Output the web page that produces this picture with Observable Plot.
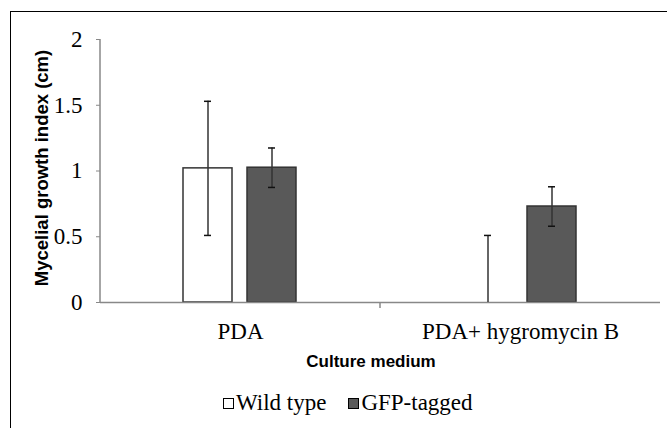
<!DOCTYPE html>
<html>
<head>
<meta charset="utf-8">
<script src="https://cdn.jsdelivr.net/npm/d3@7"></script>
<script src="https://cdn.jsdelivr.net/npm/@observablehq/plot@0.6"></script>
<style>
  html, body { margin: 0; padding: 0; background: #fff; }
  #wrap { position: relative; width: 667px; height: 428px; overflow: hidden; background: #fff; }
  #border { position: absolute; left: 10px; top: 11px; width: 720px; height: 520px; border: 1px solid #000; box-sizing: border-box; }
  #chart { position: absolute; left: 0; top: 0; }
  .ytitle { position: absolute; left: -109px; top: 158px; width: 300px; height: 20px; line-height: 20px;
            text-align: center; transform: rotate(-90deg); transform-origin: 150px 10px;
            font: bold 18.5px "Liberation Sans", Arial, sans-serif; color: #000; white-space: nowrap; }
  .xtitle { position: absolute; left: 221px; top: 352px; width: 300px; line-height: 17px; text-align: center;
            font: bold 17px "Liberation Sans", Arial, sans-serif; color: #000; white-space: nowrap; }
  #legend { position: absolute; left: 223px; top: 391px; display: flex; align-items: flex-start;
            font: 23px "Liberation Serif", "Times New Roman", serif; line-height: 23px; color: #000; }
  #legend .item { display: flex; align-items: flex-start; margin-right: 22px; white-space: nowrap; }
  #legend .sw { width: 11px; height: 11px; border: 1px solid #000; box-sizing: border-box; margin-top: 7px; margin-right: 2px; }
</style>
</head>
<body>
<div id="wrap">
  <div id="border"></div>
  <div id="chart"></div>
  <div class="ytitle">Mycelial growth index (cm)</div>
  <div class="xtitle">Culture medium</div>
  <div id="legend"></div>
</div>
<script>
// Culture media (x categories) and strains (bar series)
const media = ["PDA", "PDA+ hygromycin B"];
const strains = ["Wild type", "GFP-tagged"];

// Mean mycelial growth index (cm) and error per medium
const wildMean = [1.02, 0];
const wildErr = [0.51, 0.51];
const gfpMean = [1.025, 0.73];
const gfpErr = [0.15, 0.15];

// Y axis ticks
const yTicks = [0, 0.5, 1, 1.5, 2];

const strainFill = {"Wild type": "#ffffff", "GFP-tagged": "#595959"};

const rows = [];
media.forEach((m, i) => {
  rows.push({medium: m, strain: strains[0], mean: wildMean[i], err: wildErr[i]});
  rows.push({medium: m, strain: strains[1], mean: gfpMean[i], err: gfpErr[i]});
});
rows.forEach(d => {
  d.lo = Math.max(0, d.mean - d.err);
  d.hi = d.mean + d.err;
});

const chart = Plot.plot({
  width: 667,
  height: 370,
  marginLeft: 100,
  marginRight: 7,
  marginTop: 39,
  marginBottom: 68,
  style: {fontFamily: "'Liberation Serif', 'Times New Roman', serif", fontSize: "23px", color: "#000", background: "transparent", overflow: "visible"},
  fx: {domain: media, padding: 0, axis: "bottom", tickSize: 0, tickPadding: 20, label: null},
  x: {domain: strains, paddingInner: 0.23, paddingOuter: 1.27, axis: null},
  y: {domain: [0, 2], ticks: yTicks, tickFormat: d => String(d), tickSize: 4, tickPadding: 14, label: null},
  marks: [
    Plot.barY(rows.filter(d => d.mean > 0), {
      fx: "medium", x: "strain", y: "mean",
      fill: d => strainFill[d.strain], stroke: "#333", strokeWidth: 1.5
    }),
    Plot.ruleY([0], {stroke: "#888", strokeWidth: 1.5}),
    Plot.ruleX(rows, {fx: "medium", x: "strain", y1: "lo", y2: "hi", stroke: "#333", strokeWidth: 1.5}),
    Plot.tickY(rows, {fx: "medium", x: "strain", y: "hi", stroke: "#111", strokeWidth: 1.5, insetLeft: 21, insetRight: 21}),
    Plot.tickY(rows.filter(d => d.mean - d.err > 0), {fx: "medium", x: "strain", y: "lo", stroke: "#111", strokeWidth: 1.5, insetLeft: 21, insetRight: 21})
  ]
});

// Value axis line and category divider, placed with the plot's own scales
const fx = chart.scale("fx");
const y = chart.scale("y");
const svg = d3.select(chart);
const x0 = fx.apply(media[0]);
svg.append("line")
  .attr("x1", x0).attr("x2", x0)
  .attr("y1", y.apply(yTicks[yTicks.length - 1])).attr("y2", y.apply(0))
  .attr("stroke", "#888").attr("stroke-width", 1.5);
media.slice(1).forEach(m => {
  const xm = fx.apply(m);
  svg.append("line")
    .attr("x1", xm).attr("x2", xm)
    .attr("y1", y.apply(0)).attr("y2", y.apply(0) + 6)
    .attr("stroke", "#888").attr("stroke-width", 1.5);
});
svg.selectAll('[aria-label="y-axis tick"] path').attr("stroke", "#888");

document.getElementById("chart").appendChild(chart);

// Legend
const legend = d3.select("#legend");
strains.forEach(s => {
  const item = legend.append("div").attr("class", "item");
  item.append("div").attr("class", "sw").style("background", strainFill[s]);
  item.append("span").text(s);
});
</script>
</body>
</html>
